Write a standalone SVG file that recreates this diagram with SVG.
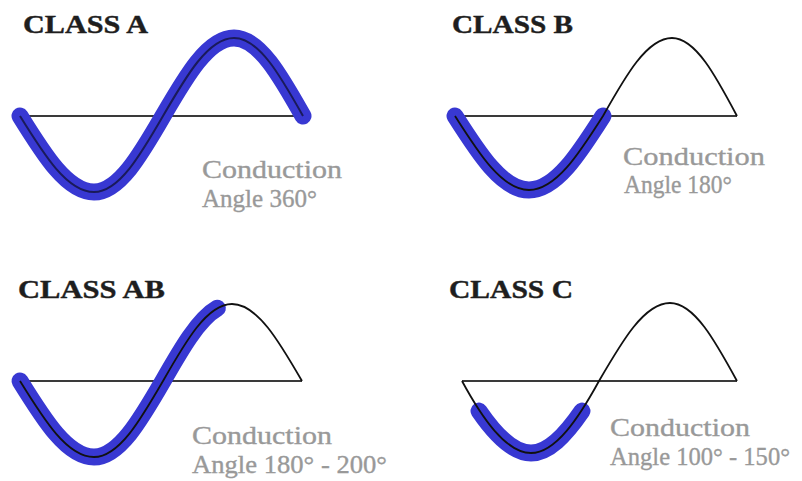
<svg xmlns="http://www.w3.org/2000/svg" width="802" height="481" viewBox="0 0 802 481">
<style>
.title{font-family:"Liberation Serif","Times New Roman",serif;font-weight:bold;font-size:26px;fill:#1e1e1e;stroke:#1e1e1e;stroke-width:0.4}
.note{font-family:"Liberation Serif","Times New Roman",serif;font-size:26px;fill:#999999;stroke:#999999;stroke-width:0.35}
.axis{stroke:#3a3a3a;stroke-width:2.2;fill:none}
.wave{stroke:#111;stroke-width:1.8;fill:none}
.cond{stroke:#3838d2;stroke-width:17;fill:none;stroke-linecap:round;stroke-linejoin:round}
.core{stroke:#1a1a5a;stroke-width:2;fill:none}
</style>
<rect width="802" height="481" fill="#ffffff"/>

<g id="class-a">
<text class="title" x="23" y="33" textLength="125" lengthAdjust="spacingAndGlyphs">CLASS A</text>
<line class="axis" x1="20" y1="116" x2="303" y2="116"/>
<path class="cond" d="M20,116 C44.1,154.9 67.2,192 94,192 C119,192 140.5,154.9 163,116 C186.2,76 208.3,38 234,38 C259,38 280.5,76 303,116"/>
<path class="core" d="M20,116 C44.1,154.9 67.2,192 94,192 C119,192 140.5,154.9 163,116 C186.2,76 208.3,38 234,38 C259,38 280.5,76 303,116"/>
<text class="note" x="202" y="178" textLength="140" lengthAdjust="spacingAndGlyphs">Conduction</text>
<text class="note" x="202" y="207" textLength="115" lengthAdjust="spacingAndGlyphs">Angle 360°</text>
</g>

<g id="class-b">
<text class="title" x="452" y="33" textLength="121" lengthAdjust="spacingAndGlyphs">CLASS B</text>
<line class="axis" x1="455" y1="116" x2="737" y2="116"/>
<path class="cond" d="M455,116 C479.1,153.9 502.2,190 529,190 C555.8,190 578.9,153.9 603,116"/>
<path class="wave" d="M455,116 C479.1,153.9 502.2,190 529,190 C555.8,190 578.9,153.9 603,116 C625.5,76 647,38 672,38 C695.5,38 715.8,76 737,116"/>
<text class="note" x="623" y="165" textLength="142" lengthAdjust="spacingAndGlyphs">Conduction</text>
<text class="note" x="624" y="193" textLength="108" lengthAdjust="spacingAndGlyphs">Angle 180°</text>
</g>

<g id="class-ab">
<text class="title" x="18" y="298" textLength="147" lengthAdjust="spacingAndGlyphs">CLASS AB</text>
<line class="axis" x1="20" y1="381" x2="302" y2="381"/>
<path class="cond" d="M20,381 C44.1,419.9 67.2,457 94,457 C119,457 140.5,419.9 163,381 C181,349.48 198.36,319.11 217.38,308.22"/>
<path class="wave" d="M20,381 C44.1,419.9 67.2,457 94,457 C119,457 140.5,419.9 163,381 C185.5,341.6 207,304 232,304 C257.3,304 279.2,341.6 302,381"/>
<text class="note" x="192" y="444" textLength="140" lengthAdjust="spacingAndGlyphs">Conduction</text>
<text class="note" x="192" y="473" textLength="195" lengthAdjust="spacingAndGlyphs">Angle 180° - 200°</text>
</g>

<g id="class-c">
<text class="title" x="449" y="298" textLength="124" lengthAdjust="spacingAndGlyphs">CLASS C</text>
<line class="axis" x1="462" y1="381" x2="737" y2="381"/>
<path class="cond" d="M479,411 C496,435.8 513.5,453 531,453 C548.22,453 565,435.8 582,411"/>
<path class="wave" d="M462,381 C482,417.9 506,453 531,453 C555.6,453 578.8,417.9 599,381 C622.2,341 644.3,303 670,303 C694.2,303 715.2,341 737,381"/>
<text class="note" x="610" y="436" textLength="140" lengthAdjust="spacingAndGlyphs">Conduction</text>
<text class="note" x="610" y="465" textLength="180" lengthAdjust="spacingAndGlyphs">Angle 100° - 150°</text>
</g>
</svg>
